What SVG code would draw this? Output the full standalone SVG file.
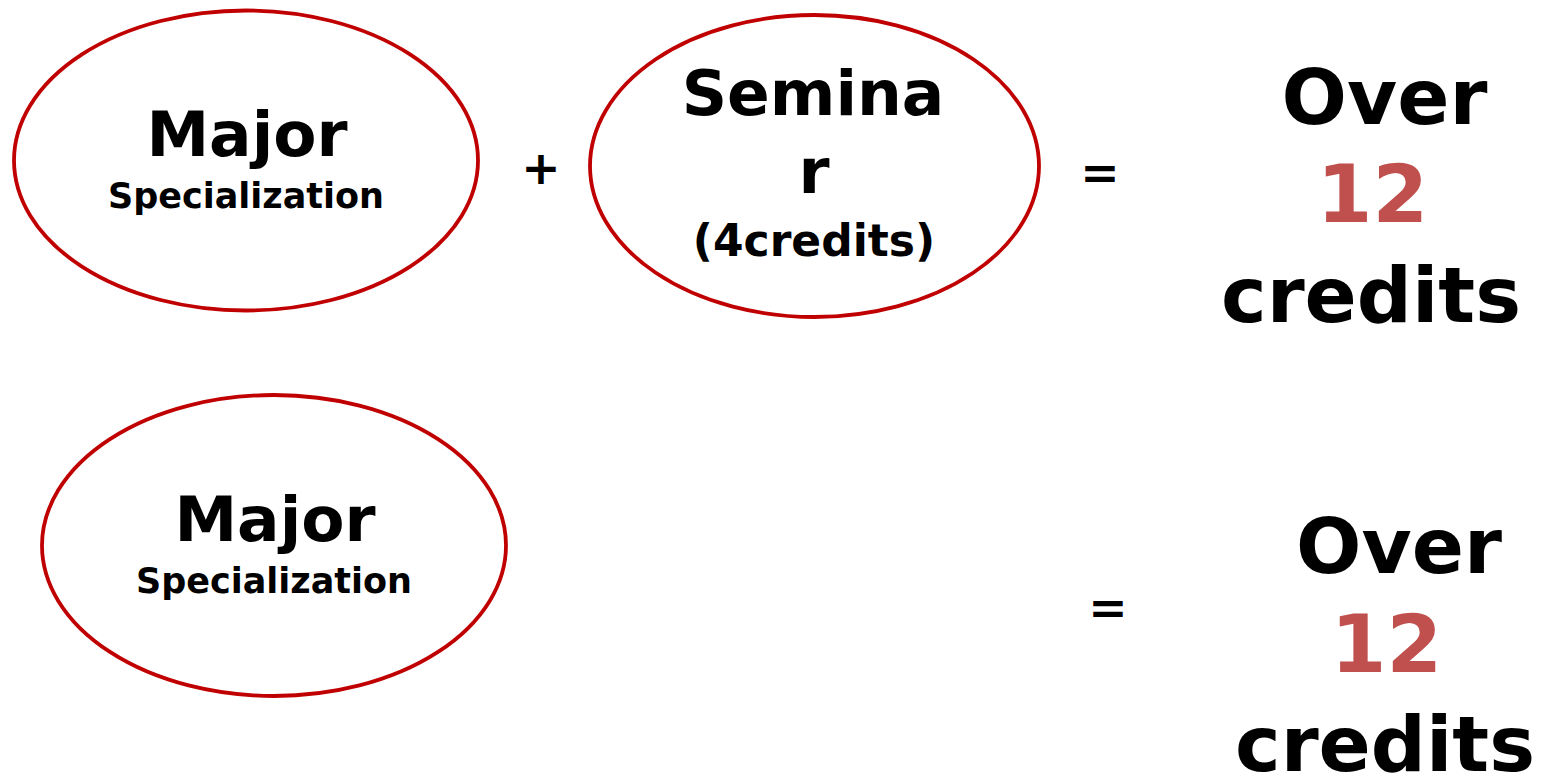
<svg xmlns="http://www.w3.org/2000/svg" width="1541" height="776" viewBox="0 0 1541 776">
<style>
.e{fill:#fff;stroke:#C00000;stroke-width:3.8}
text{font-family:"DejaVu Sans","Liberation Sans",sans-serif;font-weight:bold;text-anchor:middle;fill:#000}
.big{font-size:63px}
.sub{font-size:35px}
.cr{font-size:44px}
.op{font-size:47px}
.res{font-size:77px}
.num{fill:#C0504D;font-size:80px}
</style>
<rect width="1541" height="776" fill="#fff"/>
<g id="major1">
<ellipse class="e" cx="246" cy="160.5" rx="232" ry="150"/>
<text class="big" x="247" y="156">Major</text>
<text class="sub" x="246" y="208">Specialization</text>
</g>
<g id="plus"><text class="op" x="541" y="184">+</text></g>
<g id="seminar">
<ellipse class="e" cx="814.5" cy="166" rx="224.5" ry="151"/>
<text class="big" x="813" y="115">Semina</text>
<text class="big" x="814" y="193">r</text>
<text class="cr" x="814" y="256">(4credits)</text>
</g>
<g id="eq1"><text class="op" x="1100" y="189">=</text></g>
<g id="result1">
<text class="res" x="1384.5" y="124">Over</text>
<text class="num" x="1372.5" y="222">12</text>
<text class="res" x="1371" y="322">credits</text>
</g>
<g id="major2">
<ellipse class="e" cx="274" cy="545.5" rx="232" ry="150.5"/>
<text class="big" x="275" y="541">Major</text>
<text class="sub" x="274" y="593">Specialization</text>
</g>
<g id="eq2"><text class="op" x="1108" y="624">=</text></g>
<g id="result2">
<text class="res" x="1399" y="573">Over</text>
<text class="num" x="1386.5" y="672">12</text>
<text class="res" x="1385" y="771">credits</text>
</g>
<g id="connectors"></g>
</svg>
